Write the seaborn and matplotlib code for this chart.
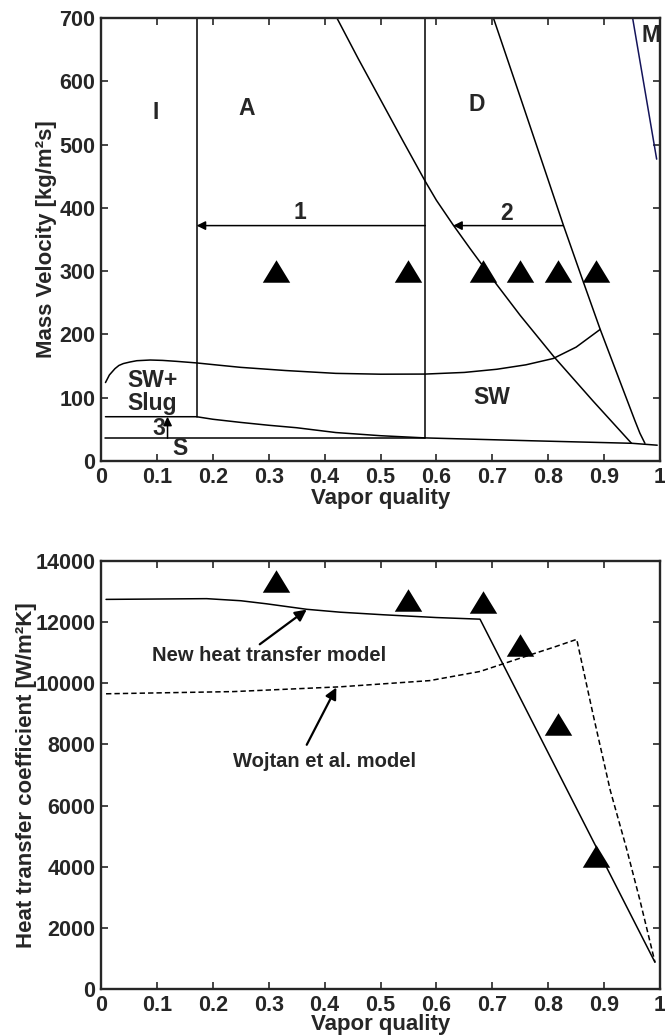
import matplotlib
matplotlib.use("Agg")
import matplotlib.pyplot as plt
from matplotlib.path import Path
from matplotlib.markers import MarkerStyle
from matplotlib.ticker import FuncFormatter
import seaborn as sns

# ---- flow pattern map (top) ----
sw_top_x = [0.008, 0.015, 0.025, 0.032, 0.040, 0.052, 0.064, 0.088, 0.11, 0.135, 0.171, 0.21,
            0.25, 0.33, 0.42, 0.50, 0.58, 0.65, 0.708, 0.76, 0.809, 0.85, 0.893]
sw_top_y = [124, 136, 146, 151, 154, 156.5, 158.5, 159.6, 159, 157.5, 155, 151.5,
            148, 143, 138.5, 137.2, 137.4, 140, 145, 152, 162, 180, 208]

slug_low_x = [0.008, 0.171, 0.20, 0.25, 0.30, 0.35, 0.42, 0.50, 0.58, 0.77, 0.95, 0.995]
slug_low_y = [70, 70, 66, 61, 56.5, 52.6, 45, 40, 36.5, 32, 28, 25]

strat_x = [0.008, 0.58]
strat_y = [36, 36]

dryout_x = [0.422, 0.46, 0.50, 0.54, 0.58, 0.60, 0.63, 0.66, 0.70, 0.75, 0.81, 0.88, 0.949]
dryout_y = [700, 636, 571, 506, 442, 412, 373, 336, 288, 230, 165, 95, 28]

dry_end_x = [0.702, 0.75, 0.80, 0.827, 0.86, 0.893, 0.93, 0.955, 0.964, 0.973]
dry_end_y = [700, 575, 444, 373, 290, 208, 122, 64, 44, 28]

mist_x = [0.951, 0.994]
mist_y = [700, 477]

ia_x = [0.171, 0.171]
ia_y = [70, 700]
ad_x = [0.58, 0.58]
ad_y = [36.5, 700]

# experimental points
exp_x = [0.313, 0.549, 0.683, 0.749, 0.818, 0.885]
exp_G = [300, 300, 300, 300, 300, 300]
exp_h = [13340, 12710, 12670, 11250, 8660, 4350]

# ---- heat transfer coefficient (bottom) ----
new_x = [0.009, 0.189, 0.25, 0.296, 0.368, 0.428, 0.505, 0.60, 0.678, 0.991]
new_h = [12744, 12768, 12700, 12600, 12420, 12325, 12241, 12150, 12097, 873]

woj_x = [0.009, 0.237, 0.428, 0.588, 0.678, 0.767, 0.81, 0.851, 0.88, 0.911, 0.94, 0.964, 0.991]
woj_h = [9656, 9728, 9884, 10087, 10386, 10925, 11180, 11437, 9000, 6497, 4600, 2908, 873]

x_ticks = [0, 0.1, 0.2, 0.3, 0.4, 0.5, 0.6, 0.7, 0.8, 0.9, 1]
G_ticks = [0, 100, 200, 300, 400, 500, 600, 700]
h_ticks = [0, 2000, 4000, 6000, 8000, 10000, 12000, 14000]

sns.set_style("ticks")
plt.rcParams['font.family'] = ['Liberation Sans', 'DejaVu Sans']
plt.rcParams['font.weight'] = 'bold'
plt.rcParams['axes.labelweight'] = 'bold'

tri = MarkerStyle(Path([(-1, -0.82), (1, -0.82), (0, 0.82), (-1, -0.82)],
                       [Path.MOVETO, Path.LINETO, Path.LINETO, Path.CLOSEPOLY]))

fig = plt.figure(figsize=(6.65, 10.36), dpi=100)
ax1 = fig.add_axes([0.1519, 0.555, 0.8406, 0.4276])
ax2 = fig.add_axes([0.1519, 0.0454, 0.8406, 0.4131])

lw = 1.1


def line(ax, xs, ys, **kw):
    kw.setdefault("color", "black")
    sns.lineplot(x=xs, y=ys, sort=False, estimator=None, lw=lw, ax=ax, **kw)


# top chart
line(ax1, sw_top_x, sw_top_y)
line(ax1, slug_low_x, slug_low_y)
line(ax1, strat_x, strat_y)
line(ax1, dryout_x, dryout_y)
line(ax1, dry_end_x, dry_end_y)
line(ax1, mist_x, mist_y, color="#14145a")
line(ax1, ia_x, ia_y)
line(ax1, ad_x, ad_y)
sns.scatterplot(x=exp_x, y=exp_G, marker=tri, s=390, color="black",
                edgecolor="black", linewidth=0, ax=ax1, zorder=5)

arr = dict(arrowstyle="-|>", mutation_scale=13, lw=lw, color="black",
           shrinkA=0, shrinkB=0)
ax1.annotate("", xy=(0.171, 372), xytext=(0.58, 372), arrowprops=arr)
ax1.annotate("", xy=(0.63, 372), xytext=(0.827, 372), arrowprops=arr)
ax1.annotate("", xy=(0.119, 70), xytext=(0.119, 36), arrowprops=arr)

lab = dict(fontsize=16.5, fontweight="bold", ha="center", va="center")
ax1.text(0.098, 551, "I", **lab)
ax1.text(0.261, 557, "A", **lab)
ax1.text(0.672, 563, "D", **lab)
ax1.text(0.984, 672, "M", **lab)
ax1.text(0.092, 109, "SW+\nSlug", linespacing=1.0, **lab)
ax1.text(0.699, 101, "SW", **lab)
ax1.text(0.356, 392, "1", **lab)
ax1.text(0.726, 391, "2", **lab)
ax1.text(0.103, 51, "3", **lab)
ax1.text(0.141, 19, "S", **lab)

# bottom chart
line(ax2, new_x, new_h)
line(ax2, woj_x, woj_h, linestyle=(0, (3.5, 2)))
sns.scatterplot(x=exp_x, y=exp_h, marker=tri, s=390, color="black",
                edgecolor="black", linewidth=0, ax=ax2, zorder=5)

arr2 = dict(arrowstyle="-|>", mutation_scale=17, lw=1.6, color="black",
            shrinkA=0, shrinkB=0)
ax2.annotate("", xy=(0.368, 12410), xytext=(0.284, 11275), arrowprops=arr2)
ax2.annotate("", xy=(0.421, 9862), xytext=(0.368, 7988), arrowprops=arr2)
ax2.text(0.30, 10915, "New heat transfer model", fontsize=14.5,
         fontweight="bold", ha="center", va="center")
ax2.text(0.40, 7448, "Wojtan et al. model", fontsize=14.5,
         fontweight="bold", ha="center", va="center")

fmt = FuncFormatter(lambda v, p: f"{v:g}")
for ax, yt, ylab, ylx in [(ax1, G_ticks, "Mass Velocity [kg/m²s]", -0.078),
                          (ax2, h_ticks, "Heat transfer coefficient [W/m²K]", -0.115)]:
    ax.set_xlim(0, 1)
    ax.set_ylim(yt[0], yt[-1])
    ax.set_xticks(x_ticks)
    ax.set_yticks(yt)
    ax.xaxis.set_major_formatter(fmt)
    ax.tick_params(direction="in", length=5, width=1.2, top=True, right=True,
                   labelsize=15.5, pad=4)
    for lbl in ax.get_xticklabels() + ax.get_yticklabels():
        lbl.set_fontweight("bold")
    for sp in ax.spines.values():
        sp.set_visible(True)
        sp.set_linewidth(1.7)
    ax.set_xlabel("Vapor quality", fontsize=16, fontweight="bold")
    ax.set_ylabel(ylab, fontsize=16, fontweight="bold")
    ax.yaxis.set_label_coords(ylx, 0.5)

ax1.xaxis.set_label_coords(0.5, -0.060)
ax2.xaxis.set_label_coords(0.5, -0.058)

plt.savefig("out.png", dpi=100)
